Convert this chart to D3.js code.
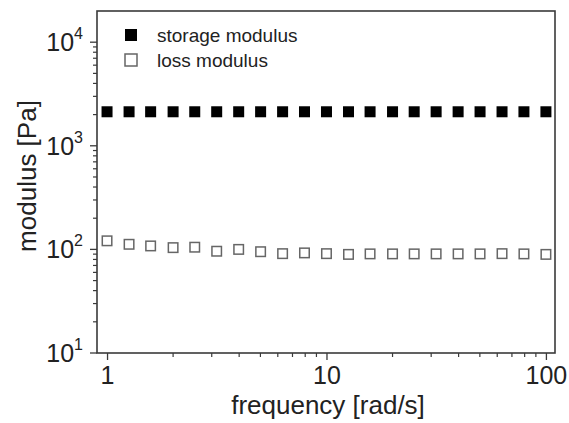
<!DOCTYPE html>
<html>
<head>
<meta charset="utf-8">
<script src="https://cdn.jsdelivr.net/npm/d3@7"></script>
<style>
  html, body { margin: 0; padding: 0; background: #fff; }
  svg text { font-family: "Liberation Sans", Arial, sans-serif; fill: #222; }
</style>
</head>
<body>
<svg id="chart" width="569" height="423"></svg>
<script>
// frequency sweep data (rad/s, Pa)
const frequency = [1, 1.26, 1.58, 2, 2.51, 3.16, 3.98, 5.01, 6.31, 7.94, 10,
    12.6, 15.8, 20, 25.1, 31.6, 39.8, 50.1, 63.1, 79.4, 100];
const storageModulus = [2130, 2130, 2130, 2130, 2130, 2130, 2130, 2130, 2130, 2130, 2130,
    2130, 2130, 2130, 2130, 2130, 2130, 2130, 2130, 2130, 2130];
const lossModulus = [121, 112, 108, 104, 105, 96, 100, 95, 91, 92.5, 91,
    89.5, 90.5, 90.5, 90.5, 90.5, 90.5, 90.5, 91, 90.5, 89.5];
const xTicks = [1, 10, 100];
const yTicks = [10, 100, 1000, 10000];
const seriesNames = ["storage modulus", "loss modulus"];

/* layout */
const margin = { top: 11, right: 14, bottom: 70, left: 97 };
const width = 569, height = 423;

const svg = d3.select("#chart");

const x = d3.scaleLog()
    .domain([0.9, 110])
    .range([margin.left, width - margin.right]);
const y = d3.scaleLog()
    .domain([10, 20000])
    .range([height - margin.bottom, margin.top]);

const frameColor = "#3a3a3a";

// minor tick values
const xMinor = [];
[1, 10].forEach(b => { for (let k = 2; k <= 9; k++) xMinor.push(b * k); });
const yMinor = [];
[10, 100, 1000].forEach(b => { for (let k = 2; k <= 9; k++) yMinor.push(b * k); });

// x axis
const xAxis = d3.axisBottom(x)
    .tickValues(xTicks)
    .tickSize(7)
    .tickPadding(6)
    .tickFormat(d3.format("d"));
const gx = svg.append("g")
    .attr("transform", "translate(0," + (height - margin.bottom) + ")")
    .call(xAxis);
gx.select(".domain").remove();
gx.selectAll("line").attr("stroke", frameColor).attr("stroke-width", 1.3);
gx.selectAll("text").attr("font-size", 25).attr("fill", "#222");

gx.selectAll(".minor").data(xMinor).enter()
    .append("line")
    .attr("x1", d => x(d)).attr("x2", d => x(d))
    .attr("y1", 0).attr("y2", 4)
    .attr("stroke", frameColor).attr("stroke-width", 1.2);

// y axis
const gy = svg.append("g")
    .attr("transform", "translate(" + margin.left + ",0)");
gy.selectAll(".major").data(yTicks).enter()
    .append("line")
    .attr("x1", -7).attr("x2", 0)
    .attr("y1", d => y(d)).attr("y2", d => y(d))
    .attr("stroke", frameColor).attr("stroke-width", 1.3);
gy.selectAll(".minor").data(yMinor).enter()
    .append("line")
    .attr("x1", -4).attr("x2", 0)
    .attr("y1", d => y(d)).attr("y2", d => y(d))
    .attr("stroke", frameColor).attr("stroke-width", 1.2);

const yLabel = gy.selectAll(".ylab").data(yTicks).enter()
    .append("text")
    .attr("x", -14)
    .attr("y", d => y(d) + 9)
    .attr("text-anchor", "end")
    .attr("font-size", 25);
yLabel.append("tspan").text("10");
yLabel.append("tspan")
    .attr("font-size", 16)
    .attr("dy", -12)
    .text(d => Math.round(Math.log10(d)));

// frame
svg.append("rect")
    .attr("x", margin.left)
    .attr("y", margin.top)
    .attr("width", width - margin.left - margin.right)
    .attr("height", height - margin.top - margin.bottom)
    .attr("fill", "none")
    .attr("stroke", frameColor)
    .attr("stroke-width", 1.6);

// markers
const ms = 11;
svg.append("g").selectAll("rect").data(frequency).enter()
    .append("rect")
    .attr("x", (d, i) => x(d) - ms / 2)
    .attr("y", (d, i) => y(storageModulus[i]) - ms / 2)
    .attr("width", ms).attr("height", ms)
    .attr("fill", "#000");

svg.append("g").selectAll("rect").data(frequency).enter()
    .append("rect")
    .attr("x", (d, i) => x(d) - (ms - 1.5) / 2)
    .attr("y", (d, i) => y(lossModulus[i]) - (ms - 1.5) / 2)
    .attr("width", ms - 1.5).attr("height", ms - 1.5)
    .attr("fill", "#fff")
    .attr("stroke", "#666")
    .attr("stroke-width", 1.5);

// legend
const legend = svg.append("g");
seriesNames.forEach((name, i) => {
    const ly = 35 + i * 25;
    legend.append("rect")
        .attr("x", 125).attr("y", ly - 6)
        .attr("width", 12).attr("height", 12)
        .attr("fill", i === 0 ? "#000" : "#fff")
        .attr("stroke", i === 0 ? "none" : "#666")
        .attr("stroke-width", 1.5);
    legend.append("text")
        .attr("x", 157).attr("y", ly + 6.5)
        .attr("font-size", 19)
        .text(name);
});

// axis titles
svg.append("text")
    .attr("x", (margin.left + width - margin.right) / 2 + 2)
    .attr("y", 414)
    .attr("text-anchor", "middle")
    .attr("font-size", 26)
    .text("frequency [rad/s]");

svg.append("text")
    .attr("transform", "translate(36,176) rotate(-90)")
    .attr("text-anchor", "middle")
    .attr("font-size", 26)
    .text("modulus [Pa]");
</script>
</body>
</html>
